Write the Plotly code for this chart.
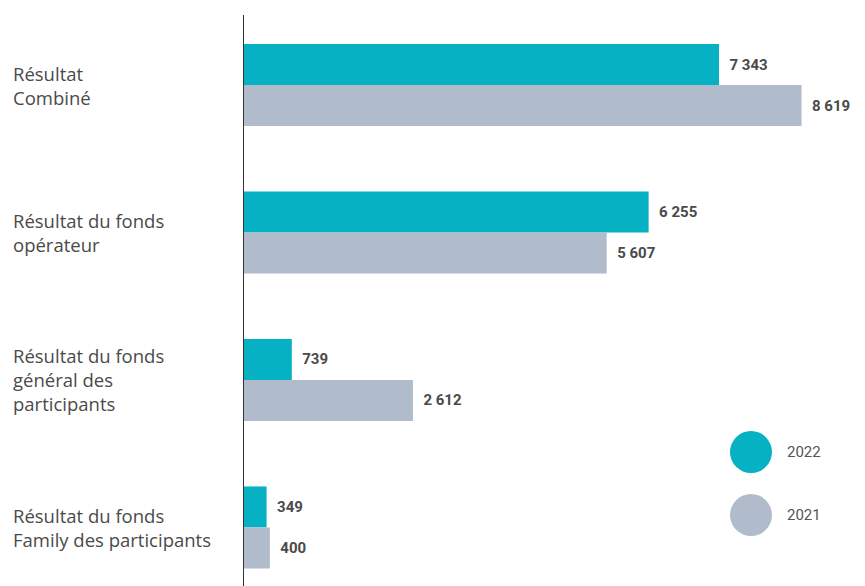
import plotly.graph_objects as go

categories = [
    "Résultat<br>Combiné",
    "Résultat du fonds<br>opérateur",
    "Résultat du fonds<br>général des<br>participants",
    "Résultat du fonds<br>Family des participants",
]
values_2022 = [7343, 6255, 739, 349]
values_2021 = [8619, 5607, 2612, 400]
years = ["2022", "2021"]

colors = {"2022": "#05b1c3", "2021": "#b0bccc"}
text_color = "#4a4a4a"
cat_idx = list(range(len(categories)))

fig = go.Figure()
for year, vals in zip(years, [values_2022, values_2021]):
    fig.add_trace(go.Bar(
        y=cat_idx,
        x=vals,
        orientation="h",
        name=year,
        marker=dict(color=colors[year], line=dict(width=0)),
        texttemplate="  %{x:,}",
        textposition="outside",
        textfont=dict(family="Roboto", size=15, color=text_color, weight="bold"),
        cliponaxis=False,
        showlegend=False,
    ))

# category labels, left aligned
for i, cat in enumerate(categories):
    fig.add_annotation(
        x=0, xref="paper", xshift=-233, xanchor="left",
        y=i, yref="y", yanchor="middle",
        text=cat, showarrow=False, align="left",
        font=dict(family="Open Sans", size=18.5, color=text_color),
    )

# legend drawn as circles + labels
legend_y = [0.2347, 0.1243]
for year, ly in zip(years, legend_y):
    fig.add_shape(
        type="circle", xref="paper", yref="paper",
        xsizemode="pixel", ysizemode="pixel",
        xanchor=0.8164, yanchor=ly,
        x0=-21, x1=21, y0=-21, y1=21,
        fillcolor=colors[year], line=dict(width=0),
    )
    fig.add_annotation(
        x=0.8164, xref="paper", xshift=34, xanchor="left",
        y=ly, yref="paper", yanchor="middle",
        text=year, showarrow=False,
        font=dict(family="Roboto", size=15, color="#555555"),
    )

fig.update_layout(
    width=865, height=586,
    margin=dict(l=244, r=0, t=15, b=0),
    plot_bgcolor="white", paper_bgcolor="white",
    barmode="group", bargap=0.444, bargroupgap=0,
    separators=", ",
    xaxis=dict(range=[0, 9600], showgrid=False, zeroline=False,
               showticklabels=False, showline=False, ticks=""),
    yaxis=dict(range=[3.397, -0.4746], showgrid=False, zeroline=False,
               showticklabels=False, showline=True, linecolor="#333333",
               linewidth=1, ticks=""),
)

fig.write_html("out.html", config={"displayModeBar": False},
               post_script="document.body.style.margin='0px';")
